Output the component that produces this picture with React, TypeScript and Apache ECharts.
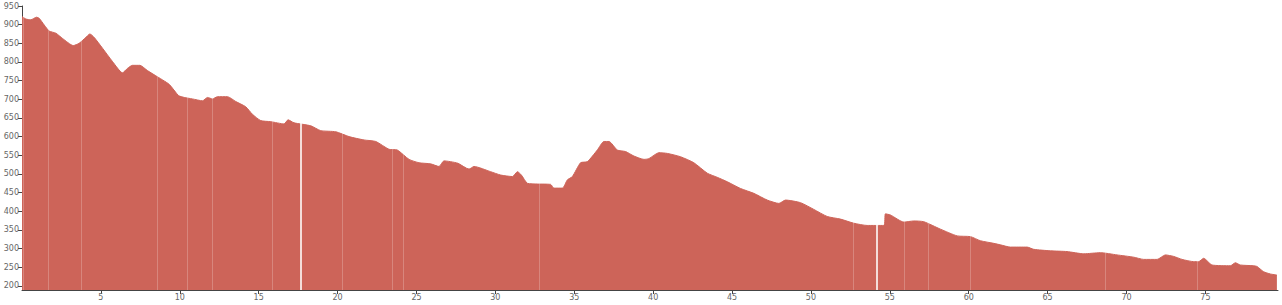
import React, { useEffect, useRef } from "react";
import * as echarts from "echarts";

const distances: number[] = [
  0, 0.25, 0.56, 0.92, 1.09, 1.41, 1.72, 2.15, 2.57, 3.25, 3.62, 4.05, 4.3, 4.57, 5.1, 5.74, 6.37, 6.69, 7.0, 7.47,
  7.95, 8.48, 9.33, 9.92, 10.28, 10.8, 11.44, 11.76, 12.07, 12.39, 13.02, 13.55, 14.18, 14.6, 15.13, 15.77, 16.61,
  16.86, 17.24, 18.3, 18.93, 19.89, 20.73, 21.68, 22.42, 23.26, 23.79, 24.53, 25.16, 25.9, 26.43, 26.74, 27.6, 28.33,
  28.65, 29.7, 30.34, 31.08, 31.4, 31.65, 32.03, 32.66, 33.5, 33.71, 34.25, 34.56, 34.88, 35.4, 35.83, 36.46, 36.88,
  37.2, 37.73, 38.25, 38.78, 39.42, 39.73, 40.37, 40.9, 41.74, 42.58, 43.43, 44.06, 44.7, 45.54, 46.38, 47.23, 47.97,
  48.39, 49.34, 50.18, 51.03, 51.87, 52.71, 53.56, 54.62, 54.72, 55.04, 55.89, 56.52, 57.15, 58.21, 59.27, 60.11,
  60.74, 61.59, 62.01, 62.64, 63.7, 64.12, 65.18, 66.23, 67.29, 68.34, 69.4, 70.45, 71.09, 71.94, 72.46, 72.99, 73.52,
  74.26, 74.57, 74.89, 75.42, 76.58, 76.9, 77.21, 78.06, 78.27, 78.69, 79.11, 79.53,
];

const elevations: number[] = [
  922, 915, 913, 920, 917, 899, 883, 877, 863, 844, 850, 866, 875, 866, 837, 801, 771, 783, 791, 791,
  777, 763, 740, 710, 705, 701, 696, 705, 701, 707, 707, 694, 680, 660, 643, 640, 634,
  645, 637, 629, 616, 613, 600, 591, 587, 566, 564, 539, 530, 527, 520, 535, 529, 513,
  520, 506, 497, 493, 506, 497, 475, 473, 472, 462, 462, 484, 493, 530, 533, 564, 587,
  587, 564, 560, 548, 539, 541, 557, 555, 546, 530, 502, 491, 479, 461, 448, 430, 421,
  430, 423, 405, 386, 379, 368, 362, 362, 393, 390, 371, 374, 372, 352, 334, 332,
  321, 314, 310, 304, 304, 298, 294, 292, 286, 289, 283, 277, 271, 271, 283, 279, 271,
  265, 265, 274, 256, 254, 262, 256, 254, 252, 238, 232, 229,
];

const majorSplits: number[] = [17.67, 54.2];
const minorSplits: number[] = [0.05, 1.66, 3.77, 8.59, 10.49, 12.03, 15.87, 20.31, 23.48, 24.17, 32.77, 52.66, 55.89, 57.43, 60.07, 68.66, 74.51];

const xTicks: number[] = [5, 10, 15, 20, 25, 30, 35, 40, 45, 50, 55, 60, 65, 70, 75];
const yTicks: number[] = [200, 250, 300, 350, 400, 450, 500, 550, 600, 650, 700, 750, 800, 850, 900, 950];

export default function App() {
  const ref = useRef<HTMLDivElement>(null);
  useEffect(() => {
    document.body.style.margin = "0";
    if (!ref.current) return;
    const chart = echarts.init(ref.current, undefined, { renderer: "svg" });
    const fill = "#cd6459";
    const axisColor = "#444";
    const labelColor = "#666";
    chart.setOption({
      animation: false,
      backgroundColor: "#ffffff",
      grid: { left: 22, right: 4, top: 6, bottom: 15, containLabel: false },
      xAxis: {
        type: "value",
        min: 0,
        max: 79.6,
        splitLine: { show: false },
        axisLine: { show: true, lineStyle: { color: axisColor, width: 1 } },
        axisTick: { show: true, length: 4, lineStyle: { color: axisColor }, customValues: xTicks },
        axisLabel: { color: labelColor, fontSize: 8, margin: 3, fontFamily: "DejaVu Sans", customValues: xTicks },
      },
      yAxis: {
        type: "value",
        min: 189,
        max: 950,
        splitLine: { show: false },
        axisLine: { show: true, lineStyle: { color: axisColor, width: 1 } },
        axisTick: { show: true, length: 4, lineStyle: { color: axisColor }, customValues: yTicks },
        axisLabel: { color: labelColor, fontSize: 8, margin: 3, fontFamily: "DejaVu Sans", customValues: yTicks },
      },
      series: [
        {
          type: "line",
          data: distances.map((d, i) => [d, elevations[i]]),
          showSymbol: false,
          symbol: "none",
          smooth: 0.2,
          lineStyle: { color: fill, width: 1 },
          areaStyle: { color: fill, opacity: 1, origin: "start" },
          markLine: {
            silent: true,
            symbol: "none",
            label: { show: false },
            data: [
              ...minorSplits.map((x) => ({ xAxis: x, lineStyle: { color: "rgba(255,255,255,0.22)", width: 1, type: "solid" } })),
              ...majorSplits.map((x) => ({ xAxis: x, lineStyle: { color: "rgba(255,255,255,0.78)", width: 2, type: "solid" } })),
            ],
          },
        },
      ],
    });
    return () => chart.dispose();
  }, []);
  return <div ref={ref} style={{ width: 1282, height: 305 }} />;
}
